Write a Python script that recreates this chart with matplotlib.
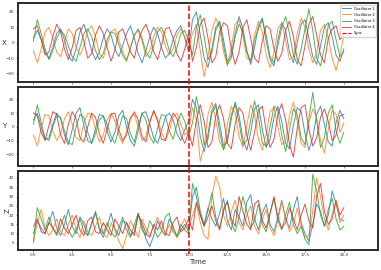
import numpy as np
import matplotlib
matplotlib.use("Agg")
import matplotlib.pyplot as plt
from matplotlib.lines import Line2D

# valores leidos a ojo del grafico (muestreo cada 0.25 de tiempo, 0..20)
labels = ["Oscillator 1", "Oscillator 2", "Oscillator 3", "Oscillator 4"]
colors = ["tab:blue", "tab:orange", "tab:green", "tab:red"]
sync_time = 10.0

blue_x = [3, 8, 2, -6, -10, -3, 6, 9, 2, -8, -12, -4, 7, 12, 4, -5, -11, -6, 3, 9,
          5, -4, -9, -2, 6, 11, 3, -7, -13, -5, 4, 10, 6, -3, -10, -7, 2, 8, 11, 3,
          -6, 15, 20, 5, -10, -16, -4, 10, 14, 2, -12, -8, 6, 17, 9, -5, -14, -3, 11, 16,
          1, -11, -15, 2, 13, 8, -6, -13, 0, 12, 15, 3, -9, -14, -2, 10, 13, 4, -8, -12, -4]
orange_x = [-5, -13, -4, 7, 10, 3, -6, -9, 0, 9, 6, -3, -8, -2, 8, 11, 4, -7, -10, -1,
            7, 9, 2, -6, -11, -4, 5, 8, 1, -9, -5, 4, 10, 7, -2, -8, -4, 5, 9, 4,
            -3, 6, 12, -5, -22, -9, 8, 16, 10, -6, -15, -3, 12, 15, 4, -10, -12, 5, 14, 7,
            -8, -16, -6, 9, 13, 2, -11, -9, 6, 16, 10, -4, -13, -7, 8, 12, 3, -10, -18, -8, 5]
green_x = [1, 15, 6, -4, -11, -5, 3, 8, 5, -2, -9, -12, -3, 6, 9, 4, -5, -11, -7, 2,
           7, 6, -1, -8, -12, -3, 5, 9, 3, -6, -10, -2, 7, 10, 4, -5, -9, -3, 6, 8,
           1, -8, 10, 18, 4, -11, -6, 8, 13, -2, -14, -10, 4, 12, 7, -6, -12, 2, 9, 15,
           5, -9, -13, -2, 10, 17, 6, -8, -14, -4, 9, 22, 8, -10, -15, -3, 11, 14, 2, -9, -6]
red_x = [9, 11, 2, -8, -6, 4, 12, 7, -4, -11, -3, 8, 10, 1, -10, -7, 5, 11, 6, -3,
         -12, -5, 7, 9, 2, -6, -10, 1, 8, 12, 5, -6, -11, -2, 9, 10, 3, -7, -12, -4,
         6, -12, -3, 12, 16, 3, -13, -9, 7, 13, 11, -4, -14, -6, 10, 15, 3, -10, -13, 1,
         11, 9, -4, -12, -7, 8, 14, 4, -11, -15, -2, 12, 17, 5, -8, -13, 3, 9, 11, 2, 6]

blue_y = [5, 10, 0, -9, -8, 2, 10, 6, -6, -13, -2, 10, 14, 1, -10, -12, -1, 9, 8, -3,
          -11, -4, 8, 12, 0, -10, -14, -3, 10, 11, 2, -8, -12, -3, 7, 10, 5, -5, -10, -2,
          4, 20, 14, -7, -18, -5, 12, 17, 2, -14, -11, 6, 18, 8, -9, -17, -4, 13, 16, -2,
          -15, -9, 7, 15, 4, -12, -16, 1, 14, 11, -5, -17, -8, 9, 15, 2, -11, -14, 3, 12, 6]
orange_y = [-6, -14, -1, 9, 8, -3, -10, -5, 6, 11, 2, -8, -10, 3, 10, 9, -2, -11, -6, 5,
            10, 4, -6, -12, -3, 7, 9, 0, -10, -7, 5, 11, 6, -4, -10, -3, 7, 10, 2, -6,
            -3, 14, 5, -25, -14, 9, 18, 5, -11, -16, 2, 15, 10, -7, -15, 1, 16, 9, -9, -17,
            -5, 11, 14, 0, -13, -10, 8, 18, 4, -12, -15, 3, 13, 7, -10, -19, -2, 12, 9, -4, 3]
green_y = [2, 16, 3, -8, -10, 0, 8, 7, -3, -11, -13, 0, 9, 7, -4, -12, -5, 5, 8, 2,
           -7, -12, -2, 8, 6, -5, -11, 1, 10, 5, -7, -12, -1, 9, 8, -3, -9, 2, 10, 4,
           -7, 3, 22, 8, -13, -9, 10, 15, -4, -17, -8, 9, 16, 3, -13, -10, 5, 19, 7, -12,
           -14, 0, 15, 12, -6, -18, -2, 13, 9, -8, -13, 6, 25, 4, -15, -8, 10, 16, -3, -12, -4]
red_y = [10, 8, -4, -10, 1, 11, 9, -6, -12, 2, 11, 6, -8, -11, 0, 10, 7, -5, -12, -2,
         9, 10, -2, -10, -6, 6, 11, 5, -7, -11, 3, 12, 4, -9, -10, 2, 10, 6, -6, -12,
         -4, -14, 5, 16, 4, -15, -11, 8, 16, 6, -12, -16, 2, 14, 10, -6, -17, -4, 12, 15,
         -3, -15, -9, 9, 17, 5, -13, -22, -1, 14, 16, -2, -14, -8, 7, 13, 4, -10, -6, 8, 9]

blue_z = [10, 17, 13, 10, 16, 22, 13, 9, 15, 23, 14, 10, 19, 15, 9, 16, 22, 12, 8, 14,
          21, 13, 9, 17, 16, 9, 11, 21, 14, 7, 3, 9, 17, 12, 9, 18, 14, 8, 12, 15,
          11, 30, 35, 22, 15, 24, 18, 14, 21, 29, 17, 12, 23, 19, 14, 27, 31, 18, 12, 21,
          26, 15, 11, 19, 28, 18, 13, 23, 30, 16, 10, 6, 15, 26, 22, 14, 20, 33, 26, 18, 17]
orange_z = [5, 16, 23, 13, 9, 12, 18, 11, 9, 15, 20, 12, 8, 17, 11, 9, 14, 19, 10, 8,
            16, 12, 6, 2, 9, 17, 13, 8, 18, 13, 9, 14, 19, 12, 9, 15, 11, 8, 14, 18,
            12, 20, 26, 16, 9, 7, 30, 41, 35, 20, 14, 22, 28, 16, 12, 20, 25, 14, 10, 18,
            23, 13, 9, 17, 27, 19, 11, 15, 24, 14, 8, 9, 22, 40, 30, 18, 12, 21, 27, 16, 20]
green_z = [6, 24, 18, 12, 19, 13, 9, 14, 20, 12, 8, 12, 18, 11, 9, 15, 21, 13, 10, 16,
           11, 8, 13, 19, 12, 8, 15, 21, 12, 9, 17, 13, 8, 11, 19, 21, 12, 9, 15, 12,
           10, 37, 30, 20, 14, 23, 32, 19, 13, 22, 28, 16, 11, 19, 30, 22, 13, 17, 26, 15,
           11, 21, 29, 17, 12, 20, 27, 15, 10, 14, 7, 4, 42, 33, 20, 14, 23, 29, 18, 12, 14]
red_z = [14, 18, 11, 10, 16, 13, 10, 18, 13, 10, 15, 20, 12, 9, 17, 19, 11, 10, 16, 12,
         9, 18, 14, 10, 16, 12, 9, 20, 16, 10, 8, 15, 12, 17, 10, 9, 16, 19, 11, 13,
         18, 12, 27, 20, 14, 19, 25, 17, 12, 23, 27, 18, 14, 30, 22, 15, 12, 26, 28, 17,
         13, 21, 30, 19, 13, 16, 24, 18, 12, 20, 26, 17, 13, 30, 37, 22, 15, 18, 28, 20, 24]

paneles = [
    ("X", [blue_x, orange_x, green_x, red_x], (-25.5, 25.8), [-20, -10, 0, 10, 20]),
    ("Y", [blue_y, orange_y, green_y, red_y], (-28.5, 29.0), [-20, -10, 0, 10, 20]),
    ("Z", [blue_z, orange_z, green_z, red_z], (1.2, 43.8), [5, 10, 15, 20, 25, 30, 35, 40]),
]

fig = plt.figure(figsize=(3.81, 2.70), dpi=100)
posiciones = [(0.047, 0.696, 0.945, 0.293),
              (0.047, 0.385, 0.945, 0.293),
              (0.047, 0.074, 0.945, 0.293)]

ejes = []
for (nombre, series, lim, ticks), pos in zip(paneles, posiciones):
    ax = fig.add_axes(pos)
    for vals, c, lab in zip(series, colors, labels):
        t = np.linspace(0, 20, len(vals))
        ax.plot(t, vals, color=c, lw=0.7, alpha=0.8, label=lab)
    ax.set_xlim(-1.0, 22.2)
    ax.set_ylim(*lim)
    ax.set_yticks(ticks)
    ax.set_xticks([0, 2.5, 5, 7.5, 10, 12.5, 15, 17.5, 20])
    ax.set_ylabel(nombre, fontsize=5, rotation=0 if nombre != "Z" else 90,
                  labelpad=1, color="#333333", va="center")
    ax.tick_params(labelsize=3, length=1.5, width=0.4, pad=1, colors="#333333")
    for s in ax.spines.values():
        s.set_linewidth(1.4)
        s.set_color("#2b2b2b")
    ejes.append(ax)

for ax in ejes[:2]:
    ax.tick_params(labelbottom=False)
ejes[2].xaxis.set_major_formatter(plt.FormatStrFormatter("%.1f"))
ejes[2].set_xlabel("Time", fontsize=5, labelpad=1, color="#333333")

# linea de sincronizacion atravesando los tres paneles
fig.canvas.draw()
xf = fig.transFigure.inverted().transform(ejes[0].transData.transform((sync_time, 0)))[0]
fig.add_artist(Line2D([xf, xf], [0.06, 0.99], transform=fig.transFigure,
                      color="red", ls="--", lw=1.1))
sync_handle = Line2D([], [], color="red", ls="--", lw=0.8, label="Sync")

h, l = ejes[0].get_legend_handles_labels()
ejes[0].legend(h + [sync_handle], l + ["Sync"], loc="upper right", fontsize=2.6,
               frameon=True, handlelength=2.5, borderpad=0.5, labelspacing=0.6)

fig.savefig("out.png", dpi=100)
